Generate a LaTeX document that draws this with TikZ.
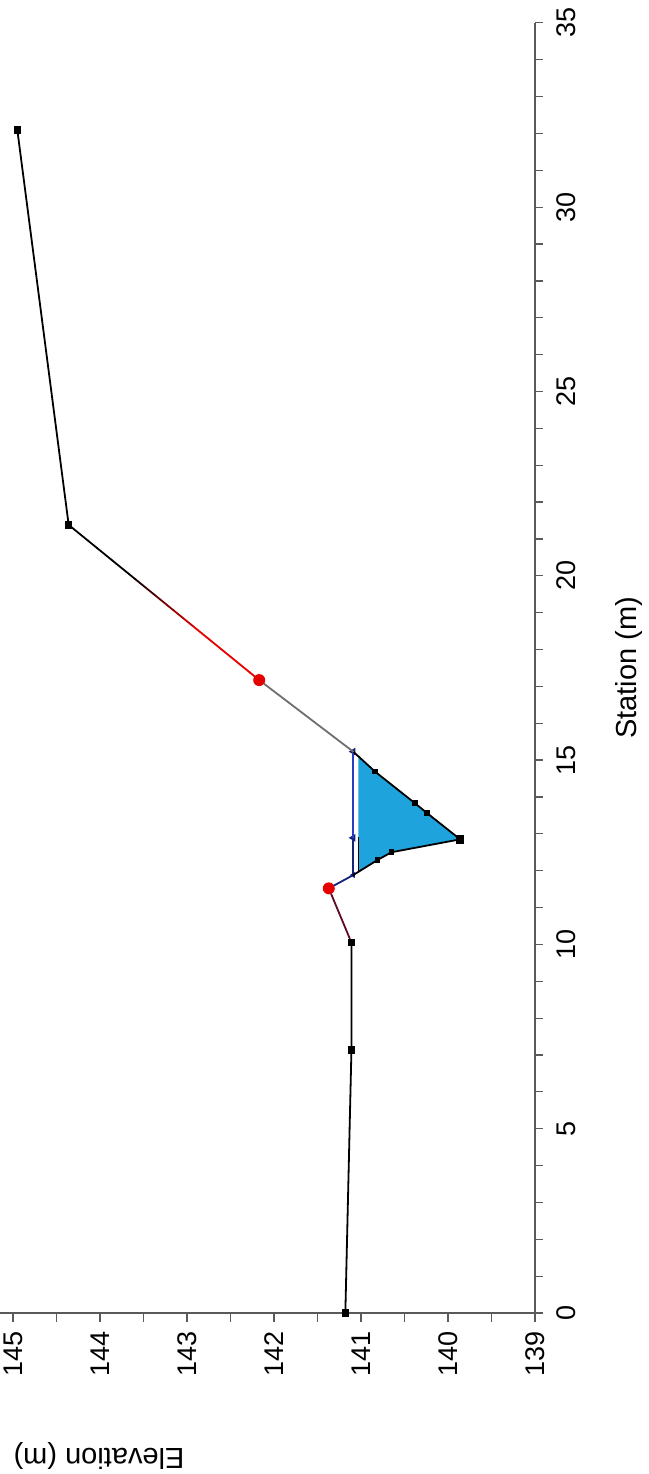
\documentclass[tikz,border=0pt]{standalone}
\usepackage{fontspec}
\setmainfont{Liberation Sans}
\usepackage{tikz}
\usetikzlibrary{shapes.geometric,calc}
\definecolor{axisgray}{HTML}{5A5A5A}
\definecolor{waterfill}{HTML}{1FA3DC}
\definecolor{wsblue}{HTML}{2B3CC4}
\definecolor{navy}{HTML}{16237A}
\definecolor{bankred}{HTML}{E60000}
\definecolor{maroon}{HTML}{5E0B26}
\definecolor{slopegray}{HTML}{6E6E6E}
\tikzset{
  axisline/.style={draw=axisgray, line width=1.4pt},
  tickmark/.style={draw=axisgray, line width=1.2pt},
  ticklabel/.style={font=\fontsize{27}{30}\selectfont, rotate=90, inner sep=0pt},
  axistitle/.style={font=\fontsize{29}{32}\selectfont, inner sep=0pt},
  ground/.style={line width=1.8pt, line cap=round},
  sqmark/.style={rectangle, fill=black, minimum size=7.5pt, inner sep=0pt},
  smallsq/.style={sqmark, minimum size=5.5pt},
  bankpt/.style={circle, fill=bankred, minimum size=12pt, inner sep=0pt},
  wsmark/.style={regular polygon, regular polygon sides=3, shape border rotate=90, fill=navy, minimum size=9pt, inner sep=0pt}
}

\begin{document}
\begin{tikzpicture}
  \useasboundingbox (0pt,0pt) rectangle (648pt,1474pt);
  % station runs upward, elevation (minus 139) runs to the left
  \begin{scope}[shift={(535pt,161pt)}, x={(0pt,36.86pt)}, y={(-87pt,0pt)}]
    % axes
    \draw[axisline] (0,0) -- (35,0);
    \draw[axisline] (0,6.15) -- (0,0);
    \foreach \s in {0,...,35}
      \draw[tickmark] (\s,0) -- ++(8pt,0pt);
    \foreach \d in {0,0.5,...,6}
      \draw[tickmark] (0,\d) -- ++(0pt,-9pt);
    \foreach \s in {0,5,...,35}
      \node[ticklabel] (st\s) at ([xshift=31pt]\s,0) {\s};
    \foreach \e [count=\i from 0] in {139,...,145}
      \node[ticklabel] (el\e) at ([yshift=-41pt]0,\i) {\e};

    % water
    \coordinate (f1) at (11.97,2.03);
    \coordinate (f2) at (12.90,2.03);
    \coordinate (f3) at (15.14,2.03);
    \fill[waterfill] (f1) -- (12.29,1.81) -- (12.50,1.65) -- (12.85,0.86)
      -- (13.56,1.24) -- (13.83,1.38) -- (14.69,1.84) -- (f3) -- cycle;

    % survey points
    \node[sqmark] (p0) at (0,2.18) {};
    \node[sqmark] (p1) at (7.13,2.11) {};
    \node[sqmark] (p2) at (10.05,2.11) {};
    \node[bankpt] (r1) at (11.52,2.37) {};
    \node[wsmark, minimum size=7pt] (w1) at (11.88,2.09) {};
    \node[smallsq] (c1) at (12.29,1.81) {};
    \node[smallsq] (c2) at (12.50,1.65) {};
    \node[sqmark, minimum size=8.5pt] (bot) at (12.85,0.86) {};
    \node[smallsq] (c3) at (13.56,1.24) {};
    \node[smallsq] (c4) at (13.83,1.38) {};
    \node[smallsq] (c5) at (14.69,1.84) {};
    \node[wsmark] (wm) at (12.89,2.09) {};
    \node[wsmark] (w2) at (15.23,2.09) {};
    \node[bankpt] (r2) at (17.17,3.17) {};
    \node[sqmark] (p3) at (21.38,5.36) {};
    \node[sqmark] (p4) at (32.09,5.95) {};

    % water surface
    \draw[line width=1.6pt, wsblue] (w1.center) -- (w2.center);
    \draw[line width=1.6pt, navy] (w1.center) -- (wm.center);
    \draw[line width=1.4pt] (f1) -- (f2);

    % ground profile
    \draw[ground] (p0) -- (p1) -- (p2);
    \draw[ground, maroon] (p2) -- (r1);
    \draw[ground, navy] (r1) -- (w1.center);
    \draw[ground] (w1.center) -- (c1.center) -- (c2.center) -- (bot.center)
      -- (c3.center) -- (c4.center) -- (c5.center) -- (w2.center);
    \draw[ground, slopegray] (w2.center) -- (r2);
    \foreach \k in {0,...,19} {
      \pgfmathsetmacro{\ta}{\k/20}
      \pgfmathsetmacro{\tb}{(\k+1)/20}
      \pgfmathsetmacro{\redpct}{max(0,min(100,(0.65-\ta)/0.35*100))}
      \draw[ground, draw=bankred!\redpct!black] ($(r2)!\ta!(p3)$) -- ($(r2)!\tb!(p3)$);
    }
    \draw[ground] (p3) -- (p4);
  \end{scope}

  % axis titles
  \node[axistitle, rotate=90] (sttitle) at (629pt,806pt) {Station (m)};
  \node[axistitle, rotate=180] (eltitle) at (99pt,18pt) {Elevation (m)};
\end{tikzpicture}
\end{document}
